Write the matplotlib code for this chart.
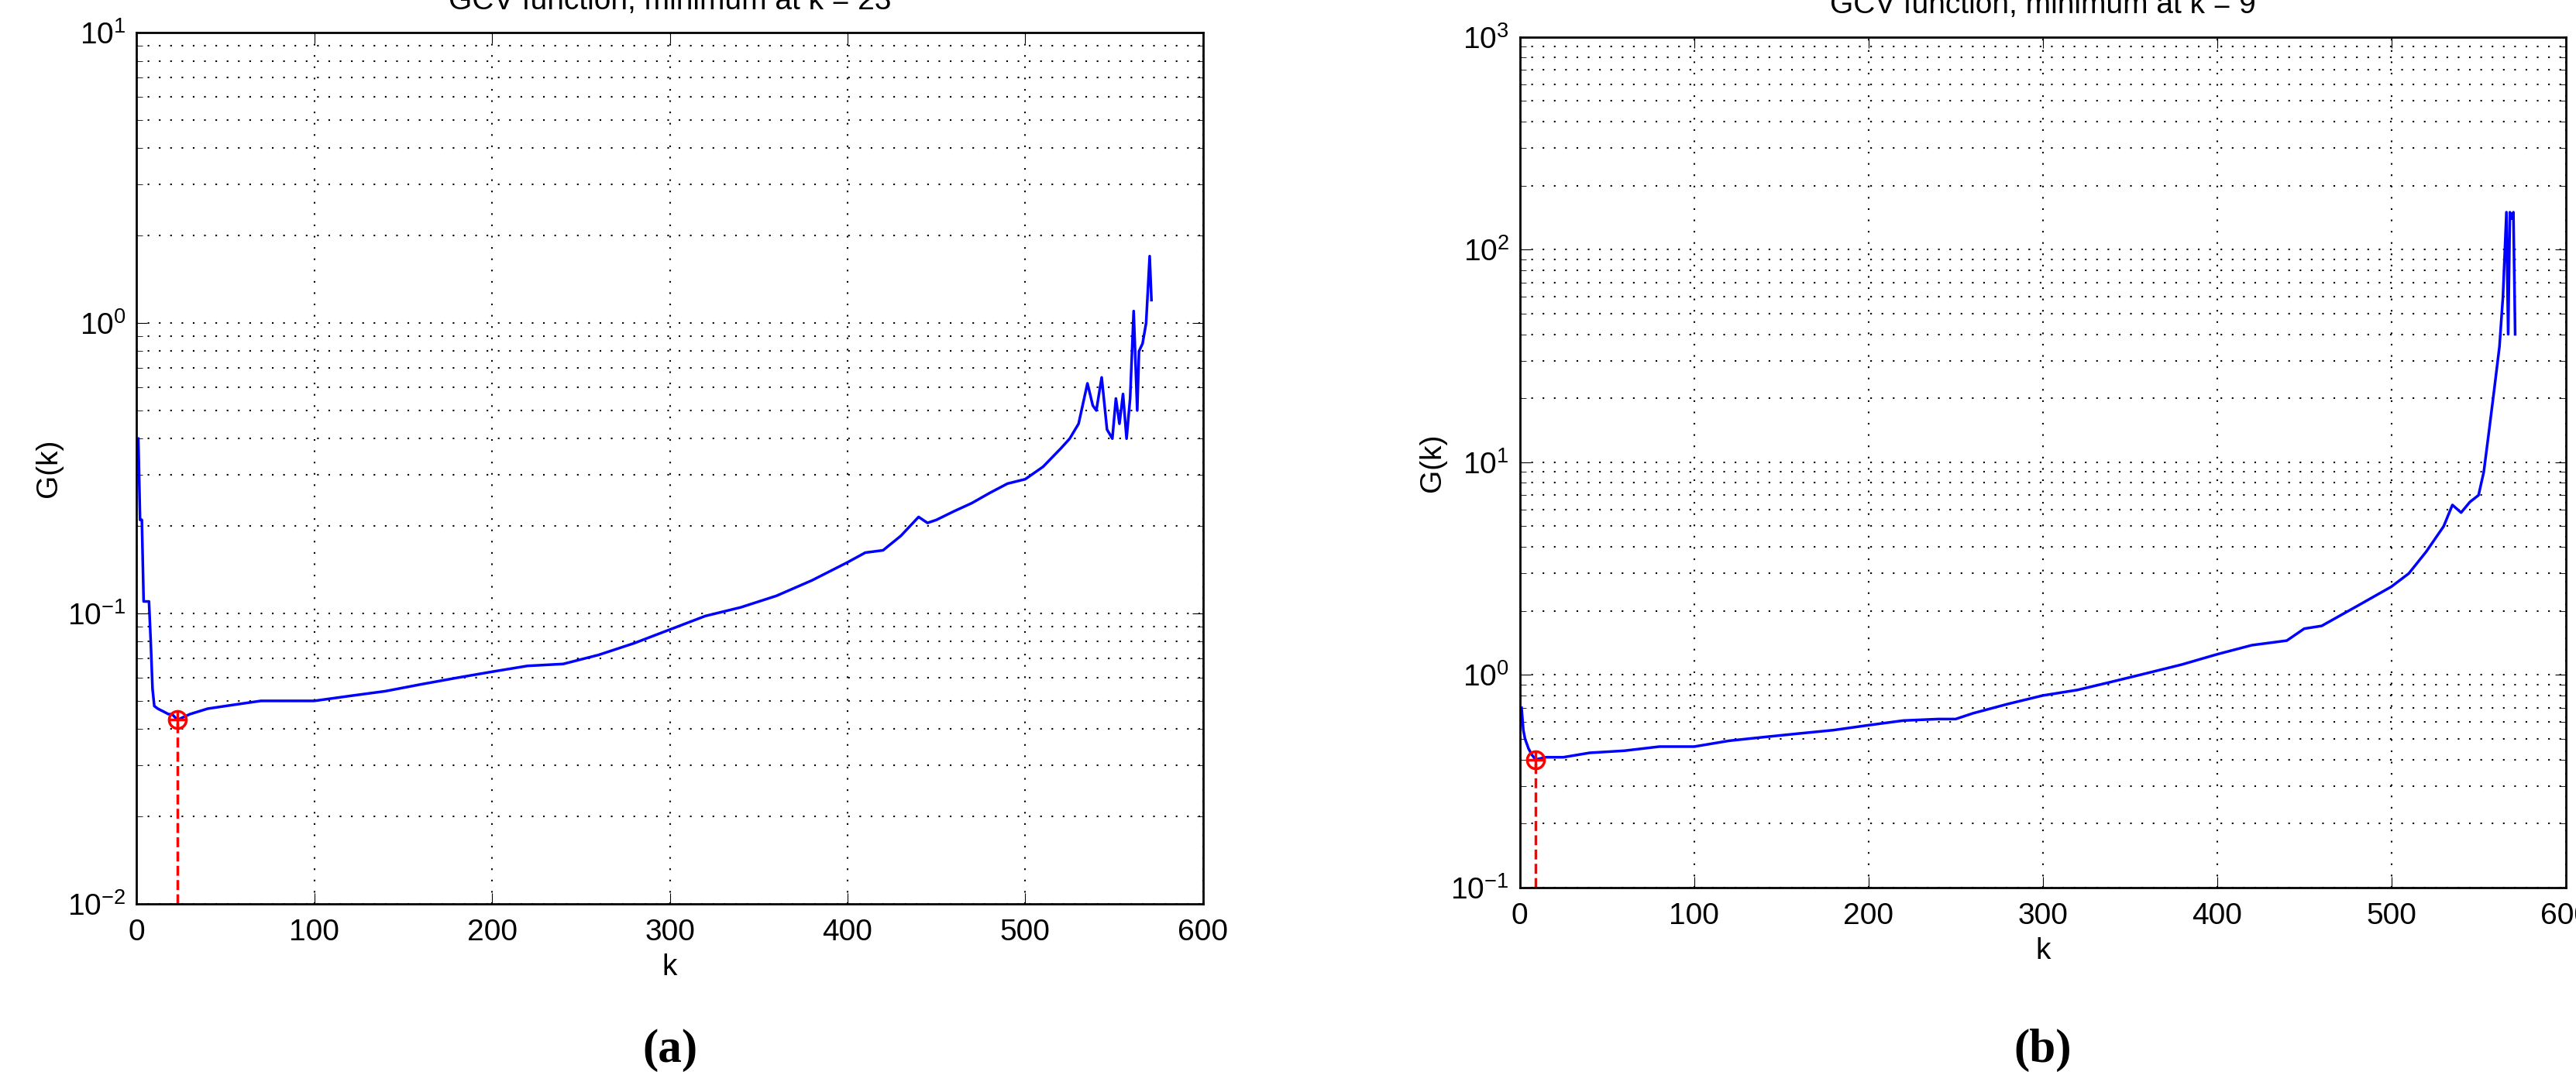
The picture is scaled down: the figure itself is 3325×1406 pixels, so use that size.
import numpy as np
import matplotlib.pyplot as plt

# panel (a) GCV curve
ka = [1, 2, 3, 4, 5, 7, 8, 9, 10, 12, 15, 18, 20, 23, 30, 40, 50, 60, 70, 80, 100, 120, 140, 160, 180,
      200, 220, 240, 260, 280, 300, 320, 340, 360, 380, 400, 410, 420, 430, 440, 445, 450, 460, 470, 480,
      490, 500, 510, 520, 525, 530, 535, 538, 540, 543, 546, 549, 551, 553, 555, 557, 559, 561, 563,
      564, 566, 568, 570, 571]
ga = [0.40, 0.21, 0.21, 0.11, 0.11, 0.11, 0.08, 0.055, 0.048, 0.047, 0.046, 0.045, 0.045, 0.043, 0.045,
      0.047, 0.048, 0.049, 0.050, 0.050, 0.050, 0.052, 0.054, 0.057, 0.060, 0.063, 0.066, 0.067, 0.072,
      0.079, 0.088, 0.098, 0.105, 0.115, 0.130, 0.150, 0.162, 0.165, 0.185, 0.215, 0.205, 0.21, 0.225,
      0.24, 0.26, 0.28, 0.29, 0.32, 0.37, 0.40, 0.45, 0.62, 0.52, 0.50, 0.65, 0.43, 0.40, 0.55, 0.45,
      0.57, 0.40, 0.55, 1.10, 0.50, 0.80, 0.85, 1.00, 1.70, 1.20]
kmin_a, gmin_a = 23, 0.043

# panel (b) GCV curve
kb = [1, 2, 3, 5, 7, 9, 15, 25, 40, 60, 80, 100, 120, 140, 160, 180, 200, 220, 240, 250, 260, 280, 300,
      320, 340, 360, 380, 400, 420, 440, 450, 460, 480, 500, 510, 520, 530, 535, 540, 545, 550, 553, 556,
      559, 562, 564, 566, 567, 568, 569, 570, 571]
gb = [0.70, 0.55, 0.50, 0.45, 0.42, 0.40, 0.41, 0.41, 0.43, 0.44, 0.46, 0.46, 0.49, 0.51, 0.53, 0.55,
      0.58, 0.61, 0.62, 0.62, 0.66, 0.73, 0.80, 0.85, 0.93, 1.02, 1.12, 1.25, 1.38, 1.45, 1.65, 1.70,
      2.1, 2.6, 3.0, 3.8, 5.0, 6.3, 5.8, 6.5, 7.0, 9.0, 14, 22, 35, 60, 150, 40, 150, 140, 150, 40]
kmin_b, gmin_b = 9, 0.40

panels = [(ka, ga, kmin_a, gmin_a, (1e-2, 1e1), 'GCV function, minimum at k = 23', '(a)'),
          (kb, gb, kmin_b, gmin_b, (1e-1, 1e3), 'GCV function, minimum at k = 9', '(b)')]

plt.rcParams['font.family'] = ['Liberation Sans', 'DejaVu Sans']
fig = plt.figure(figsize=(33.25, 14.06), dpi=100)
rects = [[0.053, 0.17, 0.414, 0.80], [0.590, 0.185, 0.406, 0.781]]

for rect, (k, g, km, gm, ylim, title, lab) in zip(rects, panels):
    ax = fig.add_axes(rect)
    ax.plot(k, g, color='blue', lw=2.5)
    ax.plot([km, km], [ylim[0], gm], 'r--', lw=2.5)
    ax.plot(km, gm, 'o', mfc='none', mec='red', ms=16, mew=2.5)
    ax.plot(km, gm, '+', color='red', ms=16, mew=2.5)
    ax.set_yscale('log')
    ax.set_xlim(0, 600)
    ax.set_ylim(*ylim)
    ax.set_xticks(range(0, 601, 100))
    ax.grid(True, which='both', linestyle=(0, (1, 6)), color='black', lw=1.5)
    ax.tick_params(which='both', direction='in', labelsize=28, top=True, right=True, length=10)
    ax.tick_params(axis='x', pad=14)
    ax.tick_params(axis='y', pad=10)
    ax.tick_params(which='minor', length=6)
    ax.set_title(title, fontsize=28, pad=22)
    ax.set_xlabel('k', fontsize=28, labelpad=6)
    ax.set_ylabel('G(k)', fontsize=28)
    for s in ax.spines.values():
        s.set_linewidth(2)
    fig.text(rect[0] + rect[2] / 2, 0.025, lab, ha='center', fontsize=44, fontweight='bold',
             family='Liberation Serif')

fig.savefig('out.png', dpi=100)
